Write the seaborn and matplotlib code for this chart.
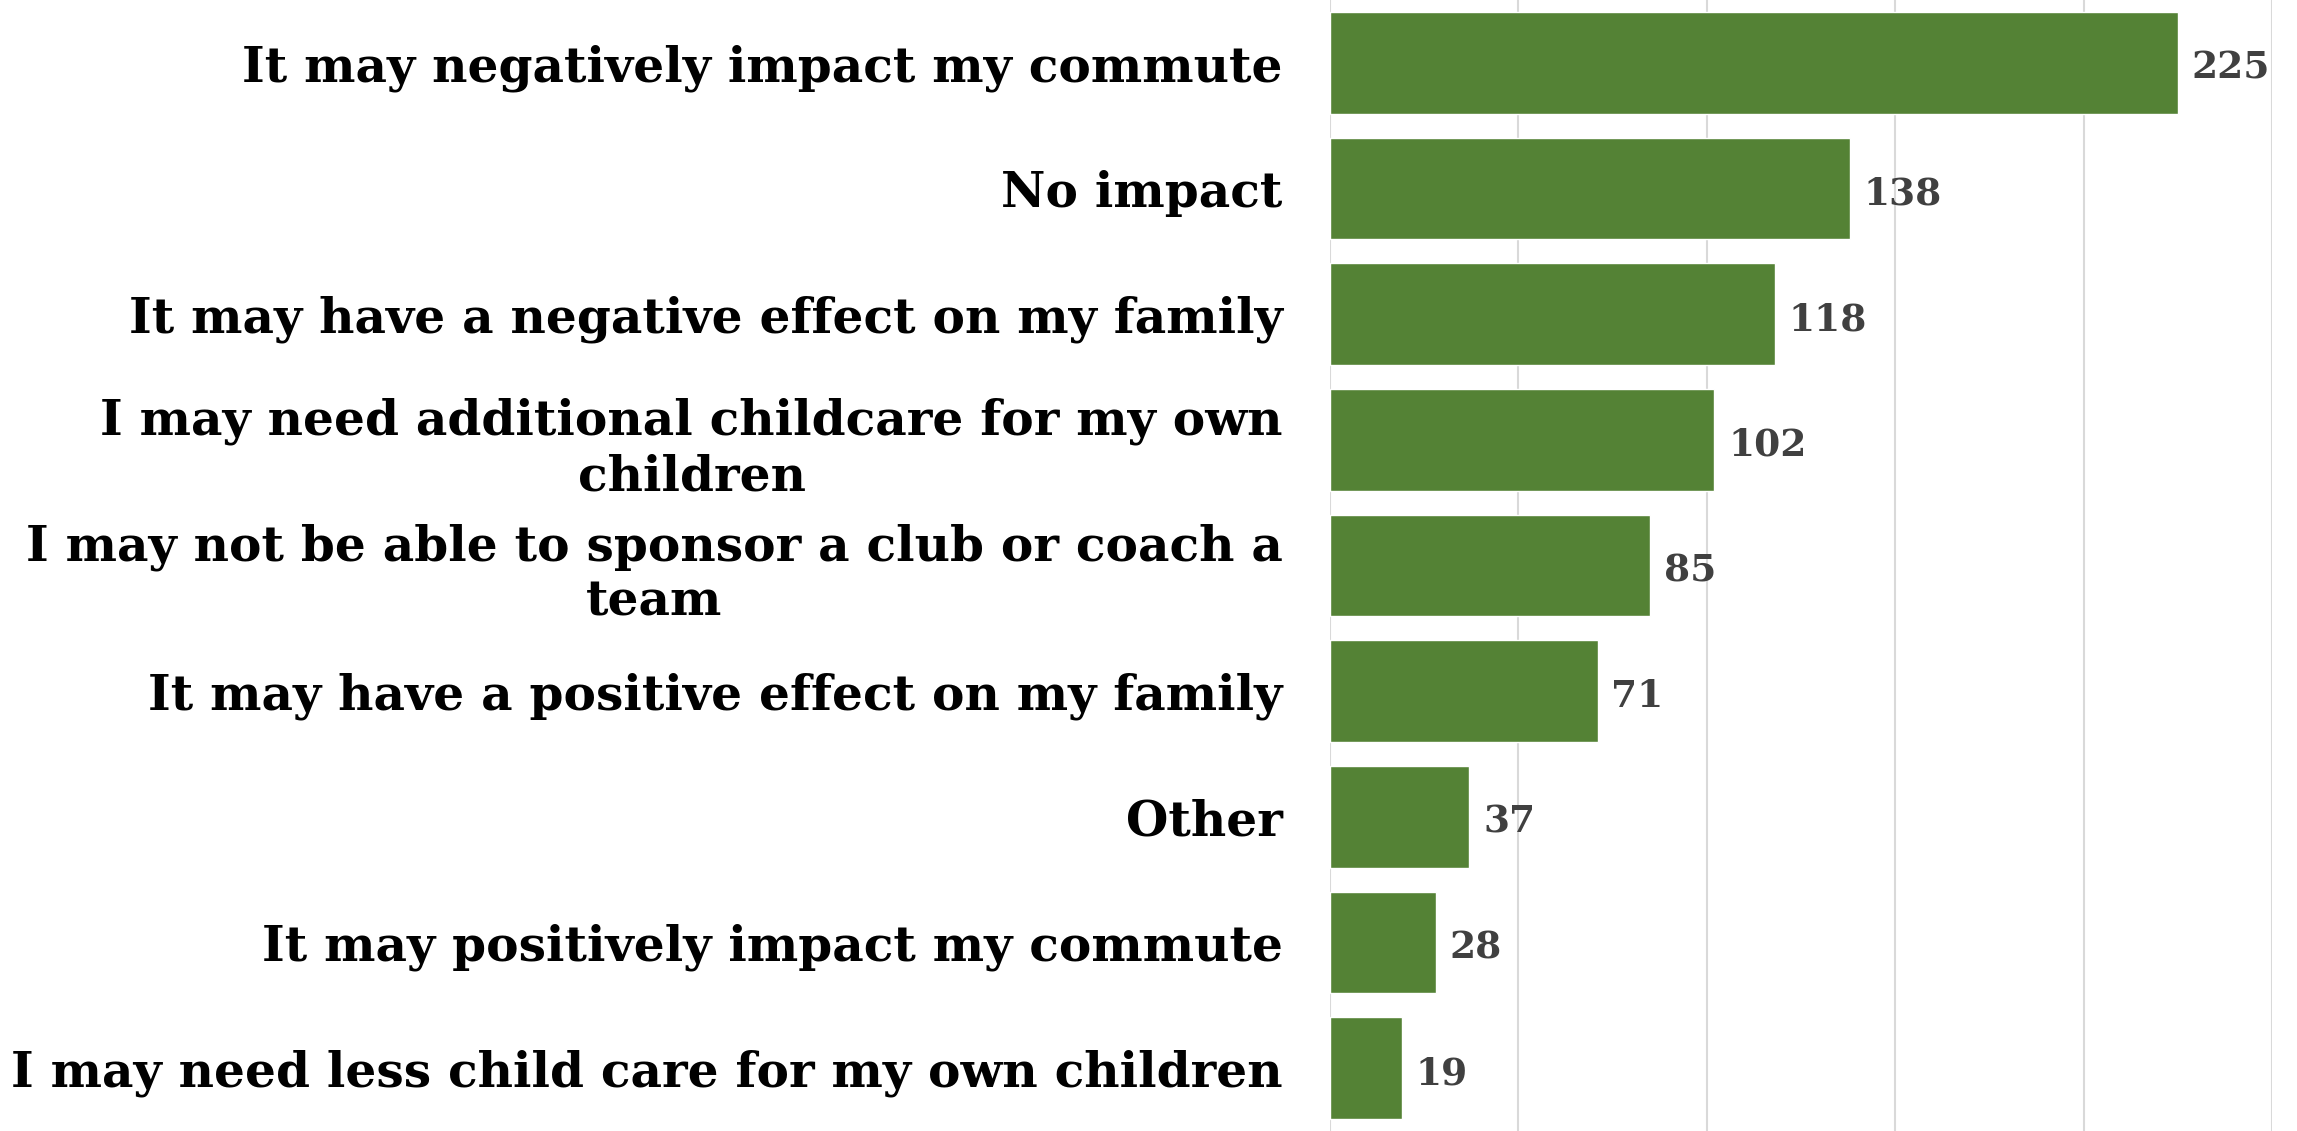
import matplotlib
matplotlib.use("Agg")
import matplotlib.pyplot as plt
import seaborn as sns
import pandas as pd

categories = [
    "It may negatively impact my commute",
    "No impact",
    "It may have a negative effect on my family",
    "I may need additional childcare for my own\nchildren",
    "I may not be able to sponsor a club or coach a\nteam",
    "It may have a positive effect on my family",
    "Other",
    "It may positively impact my commute",
    "I may need less child care for my own children",
]
counts = [225, 138, 118, 102, 85, 71, 37, 28, 19]
x_ticks = [0, 50, 100, 150, 200, 250]

df = pd.DataFrame({"category": categories, "count": counts})

sns.set_theme(style="white")
plt.rcParams["font.family"] = ["DejaVu Serif"]

fig = plt.figure(figsize=(22.97, 11.31), dpi=100)
ax = fig.add_axes([1330 / 2297, 0.0, (2272 - 1330) / 2297, 1.0])

sns.barplot(data=df, x="count", y="category", color="#548235", saturation=1,
            width=0.81, ax=ax, orient="h")

ax.set_xlim(0, 250)
ax.set_xticks(x_ticks)
ax.xaxis.grid(True, color="#d9d9d9", linewidth=1.5)
ax.set_axisbelow(True)
ax.tick_params(axis="x", labelbottom=False, length=0)
ax.tick_params(axis="y", length=0, pad=34)
for s in ax.spines.values():
    s.set_visible(False)
ax.set_xlabel("")
ax.set_ylabel("")

for lbl in ax.get_yticklabels():
    lbl.set_fontsize(35)
    lbl.set_fontweight("bold")
    lbl.set_color("black")
    lbl.set_multialignment("center")
    lbl.set_linespacing(1.22)

texts = ax.bar_label(ax.containers[0], labels=[str(v) for v in counts], padding=10,
                     fontsize=27, fontweight="bold", color="#404040")
for t in texts:
    t.set_va("center")
    t.set_y(-4)

fig.savefig("out.png", dpi=100)
